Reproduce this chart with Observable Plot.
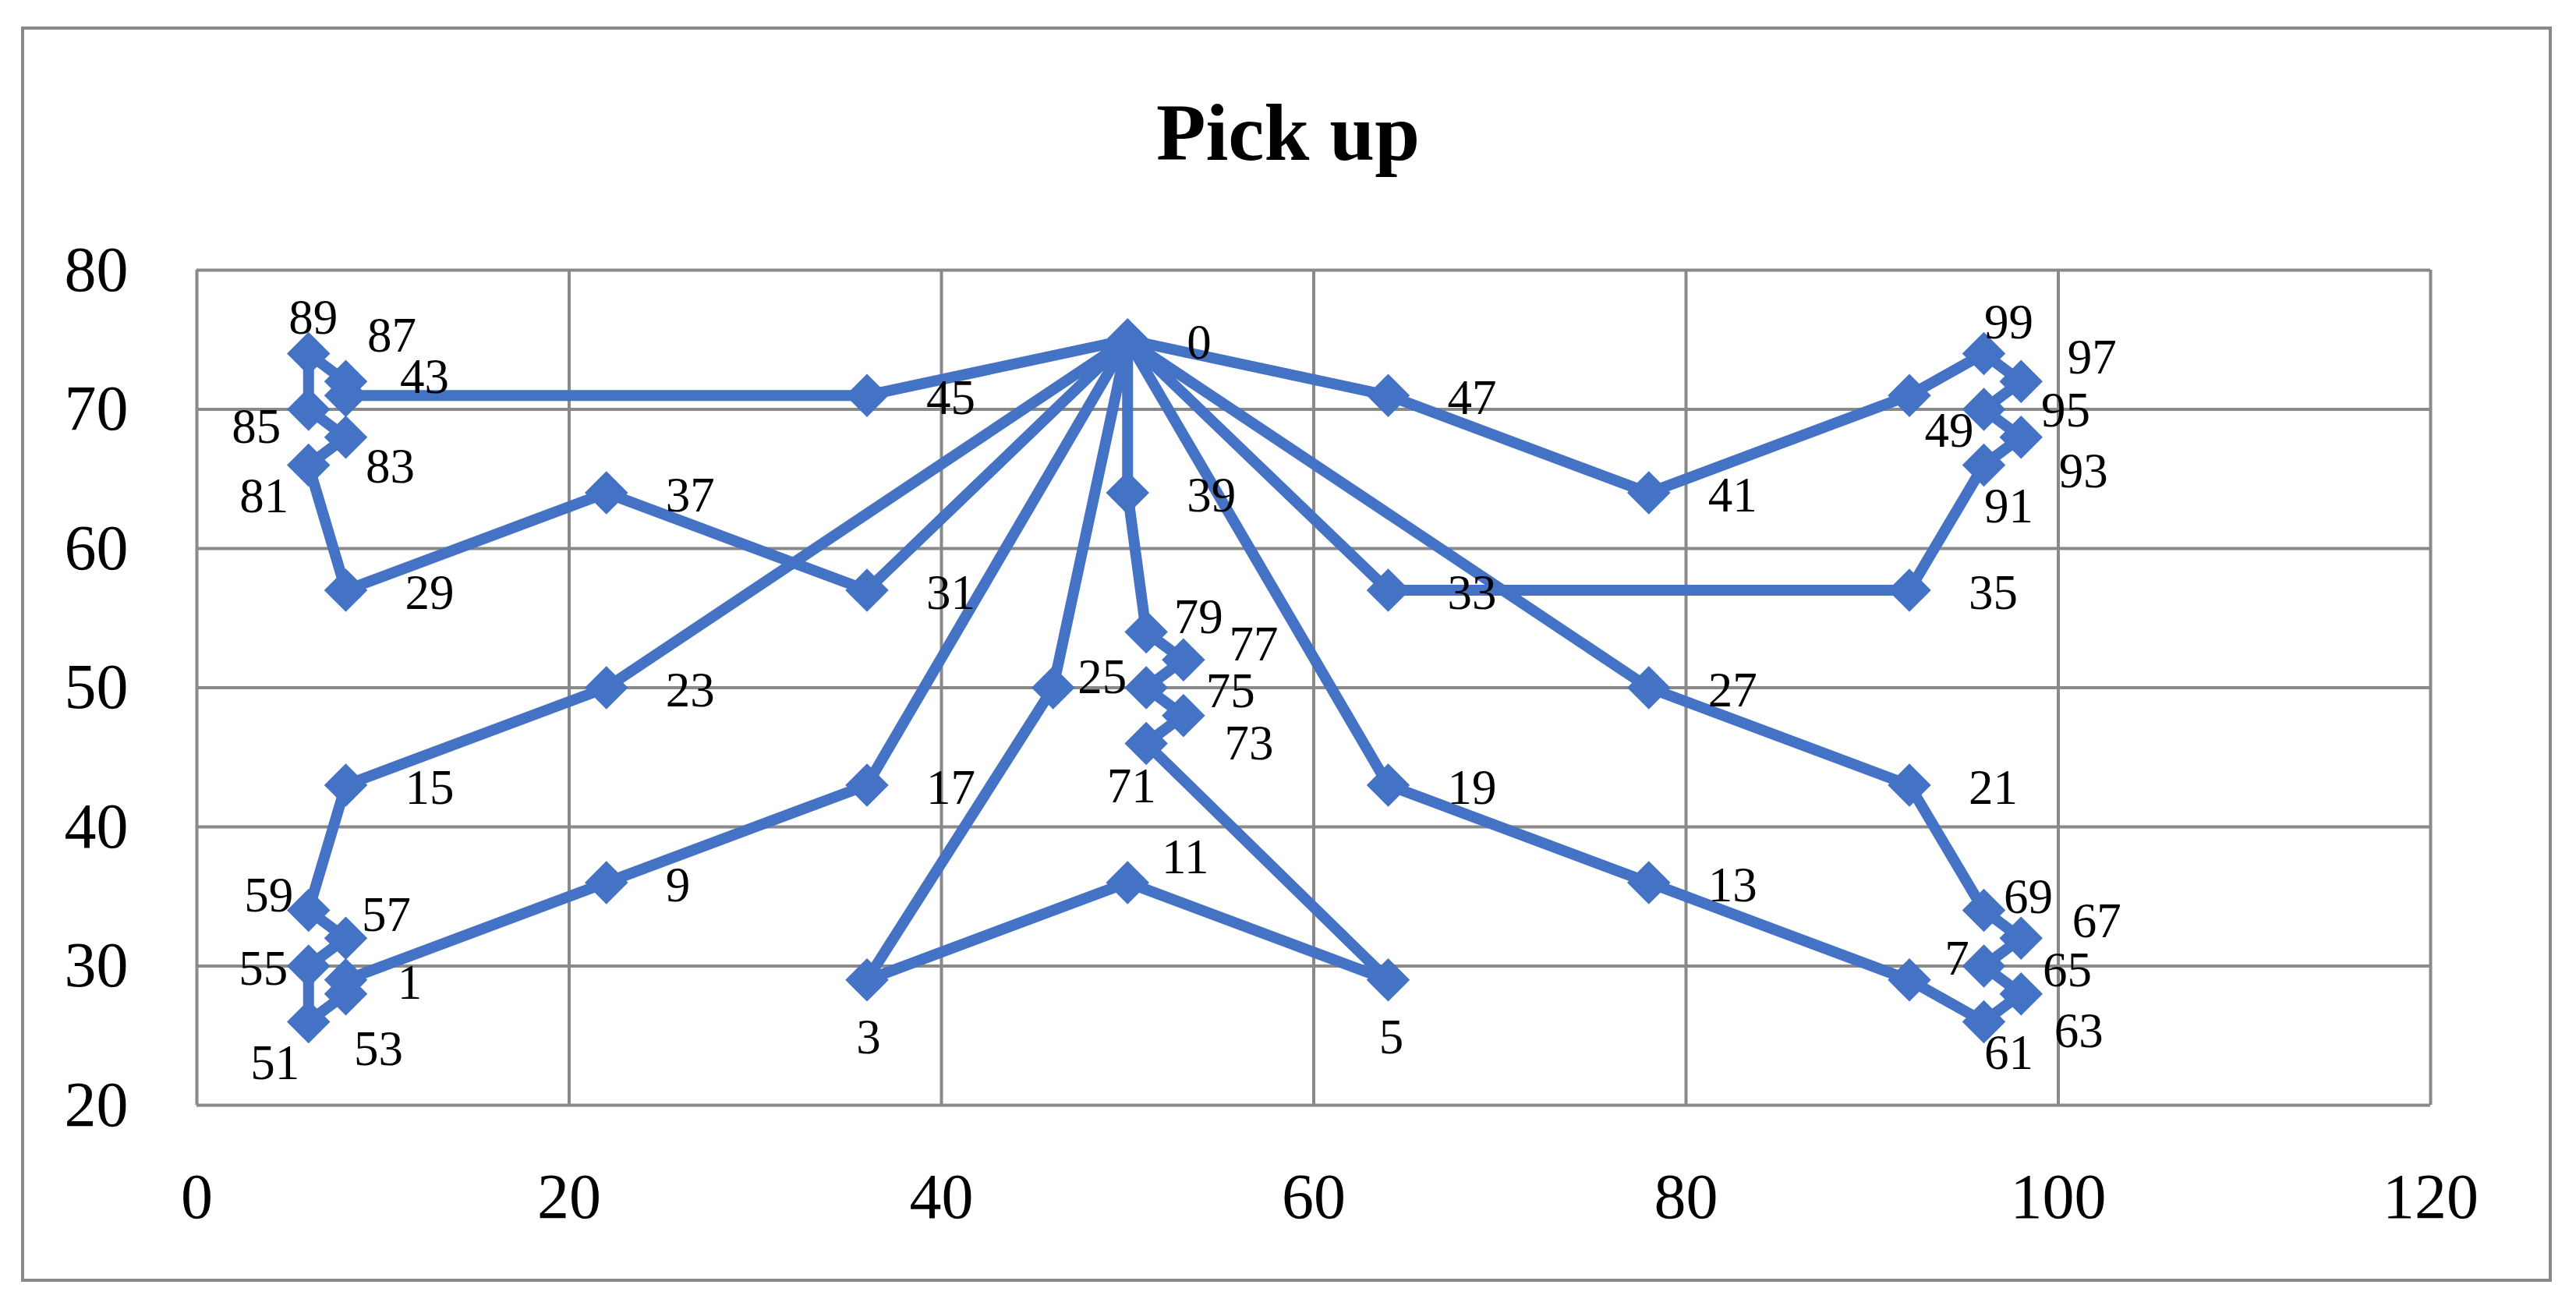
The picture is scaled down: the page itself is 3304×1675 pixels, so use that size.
<!DOCTYPE html>
<html>
<head>
<meta charset="utf-8">
<script src="https://cdn.jsdelivr.net/npm/d3@7"></script>
<script src="https://cdn.jsdelivr.net/npm/@observablehq/plot@0.6"></script>
<style>
  html, body { margin: 0; padding: 0; background: #fff; }
  #wrap { position: relative; width: 3304px; height: 1675px; background: #fff; overflow: hidden; }
  #frame { position: absolute; left: 27px; top: 34px; width: 3246px; height: 1610px; box-sizing: border-box; border: 4px solid #898989; }
  #title { position: absolute; left: 0; width: 3304px; top: 118px; text-align: center; font-family: "Liberation Serif", serif; font-weight: bold; font-size: 104px; line-height: 1; color: #000; }
  #chart { position: absolute; left: 0; top: 250px; }
</style>
</head>
<body>
<div id="wrap">
  <div id="frame"></div>
  <div id="title">Pick up</div>
  <div id="chart"></div>
</div>
<script>
// ---- data ----
const nodeId = [0, 1, 3, 5, 7, 9, 11, 13, 15, 17, 19, 21, 23, 25, 27, 29, 31, 33, 35, 37, 39, 41, 43, 45, 47, 49,
                51, 53, 55, 57, 59, 61, 63, 65, 67, 69, 71, 73, 75, 77, 79, 81, 83, 85, 87, 89, 91, 93, 95, 97, 99];
const nodeX  = [50, 8, 36, 64, 92, 22, 50, 78, 8, 36, 64, 92, 22, 46, 78, 8, 36, 64, 92, 22, 50, 78, 8, 36, 64, 92,
                6, 8, 6, 8, 6, 96, 98, 96, 98, 96, 51, 53, 51, 53, 51, 6, 8, 6, 8, 6, 96, 98, 96, 98, 96];
const nodeY  = [75, 29, 29, 29, 29, 36, 36, 36, 43, 43, 43, 43, 50, 50, 50, 57, 57, 57, 57, 64, 64, 64, 71, 71, 71, 71,
                26, 28, 30, 32, 34, 26, 28, 30, 32, 34, 46, 48, 50, 52, 54, 66, 68, 70, 72, 74, 66, 68, 70, 72, 74];
const routes = [
  [0, 45, 43, 87, 89, 85, 83, 81, 29, 37, 31, 0],
  [0, 23, 15, 59, 57, 55, 51, 53, 1, 9, 17, 0],
  [0, 39, 79, 77, 75, 73, 71, 5, 11, 3, 25, 0],
  [0, 47, 41, 49, 99, 97, 95, 93, 91, 35, 33, 0],
  [0, 27, 21, 69, 67, 65, 63, 61, 7, 13, 19, 0]
];
const xTicks = [0, 20, 40, 60, 80, 100, 120];
const yTicks = [20, 30, 40, 50, 60, 70, 80];

// ---- label placement (style: pixel nudges of label centres, default = right of marker) ----
const labelNudge = {
  25: [63, -13], 11: [74, -32], 3: [2, 74], 5: [4, 74], 71: [-19, 55], 73: [84, 36], 75: [108, 5],
  77: [90, -19], 79: [67, -19], 43: [101, -23], 87: [59, -58], 89: [6, -46], 85: [-67, 23], 83: [57, 38],
  81: [-57, 40], 99: [32, -40], 97: [91, -30], 95: [105, 2], 49: [51, 46], 93: [80, 44], 91: [32, 53],
  69: [57, -17], 67: [97, -21], 7: [61, -27], 65: [107, 6], 63: [74, 48], 61: [32, 40],
  59: [-51, -19], 57: [52, -29], 55: [-58, 4], 1: [82, 4], 53: [42, 71], 51: [-43, 53]
};

const BLUE = "#4472C4";
const GRID = "#898989";
const FONT = "Liberation Serif, serif";

const nodes = nodeId.map((id, i) => ({id, x: nodeX[i], y: nodeY[i]}));
const byId = new Map(nodes.map(d => [d.id, d]));
const lineData = routes.flatMap((r, ri) => r.map((id, k) => ({route: ri, k, x: byId.get(id).x, y: byId.get(id).y})));

const defaultLabels = nodes.filter(d => !(d.id in labelNudge));
const customLabelMarks = nodes.filter(d => d.id in labelNudge).map(d =>
  Plot.text([d], {x: "x", y: "y", text: d => String(d.id), dx: labelNudge[d.id][0], dy: labelNudge[d.id][1],
    textAnchor: "middle", fontSize: 63, fontFamily: FONT, fill: "#000"})
);

const W = 3304, H = 1425;
const chart = Plot.plot({
  width: W,
  height: H,
  marginLeft: 252,
  marginRight: 187,
  marginTop: 96,
  marginBottom: 258,
  style: {fontFamily: FONT, fontSize: "82px", background: "transparent", color: "#000"},
  x: {domain: [0, 120], ticks: xTicks},
  y: {domain: [20, 80], ticks: yTicks},
  marks: [
    Plot.gridX(xTicks, {stroke: GRID, strokeOpacity: 1, strokeWidth: 4}),
    Plot.gridY(yTicks, {stroke: GRID, strokeOpacity: 1, strokeWidth: 4}),
    Plot.axisX(xTicks, {tickSize: 0, tickPadding: 86, fontSize: 82, fontFamily: FONT, fill: "#000", label: null}),
    Plot.axisY(yTicks, {tickSize: 0, tickPadding: 88, fontSize: 82, fontFamily: FONT, fill: "#000", label: null}),
    Plot.line(lineData, {x: "x", y: "y", z: "route", stroke: BLUE, strokeWidth: 14, strokeLinejoin: "round", strokeLinecap: "round", curve: "linear"}),
    Plot.dot(nodes, {x: "x", y: "y", symbol: "diamond2", r: 25, fill: BLUE, stroke: null}),
    Plot.text(defaultLabels, {x: "x", y: "y", text: d => String(d.id), dx: 76, dy: 4, textAnchor: "start",
      fontSize: 63, fontFamily: FONT, fill: "#000"}),
    ...customLabelMarks
  ]
});
document.getElementById("chart").appendChild(chart);
</script>
</body>
</html>
